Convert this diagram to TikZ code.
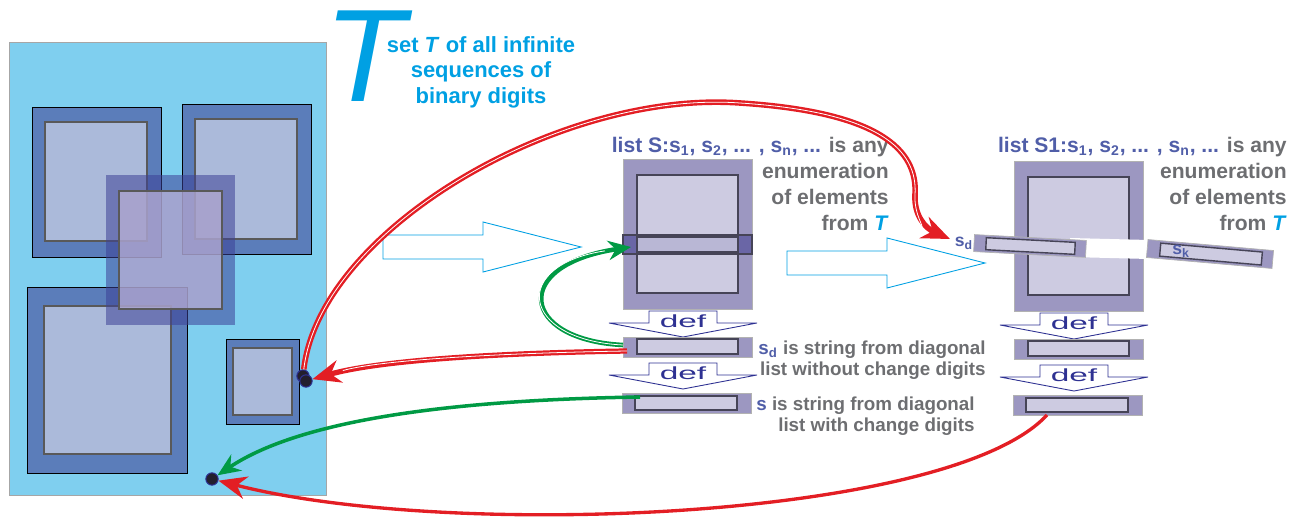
\documentclass[tikz,border=0pt]{standalone}
\usepackage{fontspec}
\setmainfont{Liberation Sans}
\usepackage{tikz}
\usetikzlibrary{arrows.meta}
\definecolor{panelblue}{RGB}{127,207,239}
\definecolor{sqblue}{RGB}{91,125,186}
\definecolor{sqlight}{RGB}{171,186,218}
\definecolor{sqmid}{RGB}{60,64,150}
\definecolor{sqmidlight}{RGB}{192,182,216}
\definecolor{lilac}{RGB}{156,151,193}
\definecolor{lilaclight}{RGB}{205,203,225}
\definecolor{bandpurple}{RGB}{106,102,166}
\definecolor{tcyan}{RGB}{0,160,227}
\definecolor{slate}{RGB}{80,94,168}
\definecolor{txtgray}{RGB}{109,110,113}
\definecolor{defnavy}{RGB}{46,49,146}
\definecolor{arrred}{RGB}{227,30,36}
\definecolor{arrgreen}{RGB}{0,154,68}
\definecolor{dotfill}{RGB}{35,31,45}
\newcommand{\lsub}[1]{\textsubscript{#1}}

\begin{document}
\begin{tikzpicture}[x=0.02cm,y=-0.02cm,
  outersq/.style={fill=sqblue},
  innersq/.style={fill=sqlight,draw=black!65,line width=0.6pt},
  listout/.style={fill=lilac,draw=black!30,line width=0.4pt},
  listin/.style={fill=lilaclight,draw=black!55!lilac,line width=0.8pt},
  hollow/.style={draw=tcyan,fill=white,line width=0.5pt},
  redarr/.style={draw=arrred,line width=#1,-{Stealth[length=16pt,width=13pt]}},
  greenarr/.style={draw=arrgreen,line width=#1,-{Stealth[length=13pt,width=11pt]}},
  core/.style={postaction={draw=white,line width=0.45pt,-,shorten >=#1}},
  headtxt/.style={font=\bfseries\fontsize{12}{14.8}\selectfont,text=txtgray,align=right,inner sep=0pt},
  notetxt/.style={font=\bfseries\fontsize{10.7}{11.9}\selectfont,text=txtgray,align=right,inner sep=0pt},
  smalllab/.style={font=\bfseries\fontsize{10}{10}\selectfont,text=slate,inner sep=0pt},
  dot/.style={circle,fill=dotfill,draw=defnavy,line width=0.6pt,inner sep=0pt,minimum size=7pt},
  defarrow/.pic={
    \draw[defnavy,fill=white,line width=0.5pt] (-34,0) -- (34,0) -- (34,12) -- (74,12) -- (0,26) -- (-74,12) -- (-34,12) -- cycle;
    \node[text=defnavy,font=\fontsize{10}{10}\selectfont,xscale=1.9,anchor=base,inner sep=0pt] (-lbl) at (0,16) {def};
  },
  bigarrow/.pic={
    \draw[hollow] (0,-12) -- (100,-12) -- (100,-25) -- (198,0) -- (100,25) -- (100,12) -- (0,12) -- cycle;
  },
  listcol/.pic={
    \draw[listout] (0,0) rectangle (129,150);
    \draw[listin] (14,16) rectangle (115,134);
    \pic (-d1) at (60,152) {defarrow};
    \draw[listout] (0,178) rectangle (129,198);
    \draw[listin] (14,180) rectangle (115,195);
    \pic (-d2) at (60,204) {defarrow};
    \draw[listout] (-1,234) rectangle (128,254);
    \draw[listin] (12,237) rectangle (114,251);
    \coordinate (-r1a) at (0,186);
    \coordinate (-r1b) at (4,192);
    \coordinate (-r2a) at (17,238);
    \coordinate (-r2b) at (33,254);
  }]
\useasboundingbox (0,0) rectangle (1308,520);

%set T
\draw[fill=panelblue,draw=black!35,line width=0.5pt] (9,42) rectangle (326,495);
\draw[outersq] (32,107) rectangle (161,257);
\draw[innersq] (45,122) rectangle (147,241);
\draw[outersq] (182,104) rectangle (311,254);
\draw[innersq] (195,119) rectangle (297,239);
\draw[outersq] (27,287) rectangle (187,473);
\draw[innersq] (44,306) rectangle (171,454);
\draw[outersq] (226,339) rectangle (299,424);
\draw[innersq] (233,348) rectangle (292,415);
\fill[sqmid,opacity=0.55] (106,175) rectangle (235,325);
\draw[fill=sqmidlight,fill opacity=0.7,draw=black!65,line width=0.6pt] (119,191) rectangle (222,309);
\node[dot] (d1a) at (303,376) {};
\node[dot] (d1b) at (306,381) {};
\node[dot] (d2) at (212,479) {};

\node[font=\itshape\fontsize{75}{75}\selectfont,text=tcyan,anchor=base,inner sep=0pt] (bigT) at (365,102) {T};
\node[font=\bfseries\fontsize{12.5}{14.5}\selectfont,text=tcyan,align=center,anchor=north,inner sep=0pt] (setT) at (481,36) {set \textit{T} of all infinite\\sequences of\\binary digits};

%lists
\pic at (383,247) {bigarrow};
\pic at (787,263) {bigarrow};
\pic (S) at (623,159) {listcol};
\draw[fill=bandpurple,draw=black!55!lilac,line width=0.8pt] (623,235) rectangle (752,254);
\draw[fill=lilaclight!80!bandpurple,draw=black!55!lilac,line width=0.8pt] (637,237) rectangle (738,252);
\coordinate (band) at (631,247);
\pic (S1) at (1014,161) {listcol};
\fill[white] (1070,238) -- (1149,240) -- (1149,259) -- (1070,257) -- cycle;
\begin{scope}[shift={(1030,246)},rotate=-3]
  \draw[listout] (-56,-8.5) rectangle (56,8.5);
  \draw[listin] (-44,-6) rectangle (45,6);
\end{scope}
\begin{scope}[shift={(1210,254)},rotate=-5]
  \draw[listout] (-63,-9) rectangle (63,9);
  \draw[listin] (-50,-6.5) rectangle (52,6.5);
  \node[smalllab] (sk) at (-29,0) {s\lsub{k}};
\end{scope}
\node[smalllab] (sd) at (964,243) {s\lsub{d}};
\coordinate (sdin) at (950,239);

\node[headtxt,anchor=north east] (hS) at (889,137) {\textcolor{slate}{list S:s\lsub{1}, s\lsub{2}, ... , s\lsub{n}, ...} is any\\enumeration\\of elements\\from \textcolor{tcyan}{\textit{T}}};
\node[headtxt,anchor=north east] (hS1) at (1287,137) {\textcolor{slate}{list S1:s\lsub{1}, s\lsub{2}, ... , s\lsub{n}, ...} is any\\enumeration\\of elements\\from \textcolor{tcyan}{\textit{T}}};
\node[notetxt,anchor=north east] (nsd) at (986,341) {\textcolor{slate}{s\lsub{d}} is string from diagonal\\list without change digits};
\node[notetxt,anchor=north east] (ns) at (975,397) {\textcolor{slate}{s} is string from diagonal\\list with change digits};

%connectors
\draw[redarr=3.2pt,core=18pt] (d1a) .. controls (320,230) and (560,90) .. (740,103) .. controls (880,112) and (918,150) .. (915,195) .. controls (914,215) and (925,228) .. (sdin);
\draw[redarr=3pt,core=18pt] (S-r1b) .. controls (500,353) and (380,360) .. (d1b);
\draw[greenarr=2.6pt,core=15pt] (S-r1a) .. controls (520,340) and (510,265) .. (band);
\draw[greenarr=2pt] (S-r2a) .. controls (450,400) and (300,420) .. (d2);
\draw[redarr=1.9pt] (S1-r2b) .. controls (950,520) and (450,540) .. (d2);
\end{tikzpicture}
\end{document}
